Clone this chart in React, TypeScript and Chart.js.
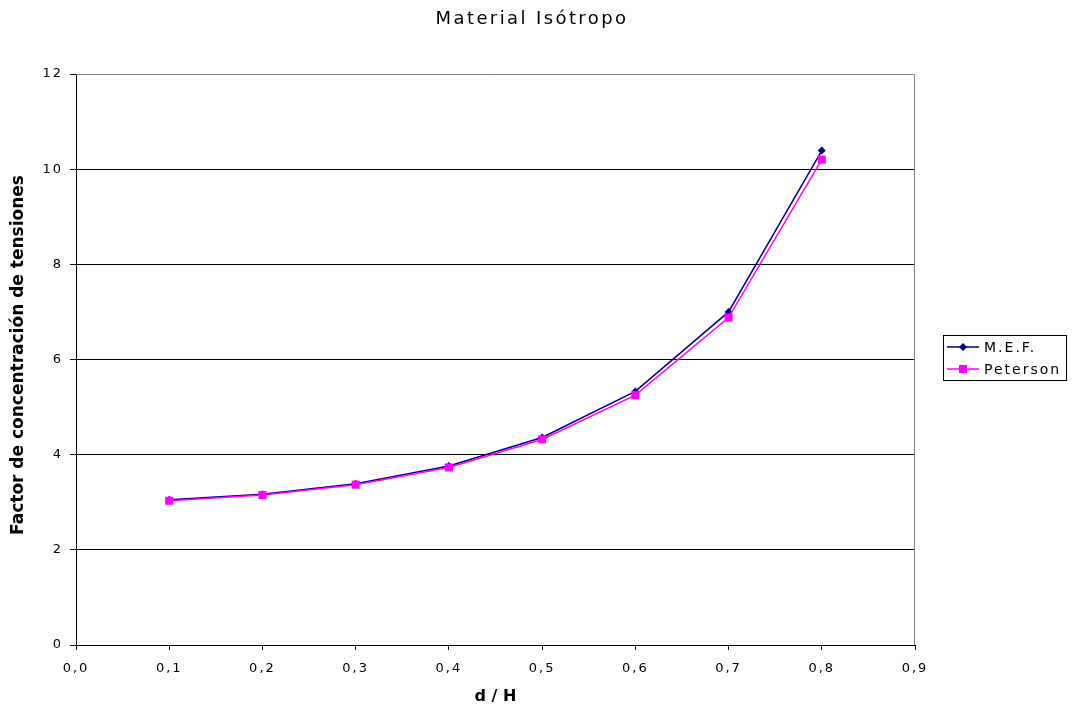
import React, { useEffect, useRef } from "react";
import { Chart, registerables } from "chart.js";

Chart.register(...registerables);

const xValues = [0.1, 0.2, 0.3, 0.4, 0.5, 0.6, 0.7, 0.8];
const mefValues = [3.05, 3.17, 3.39, 3.76, 4.36, 5.33, 7.0, 10.39];
const petersonValues = [3.03, 3.15, 3.37, 3.73, 4.32, 5.25, 6.88, 10.2];
const xTickValues = [0, 0.1, 0.2, 0.3, 0.4, 0.5, 0.6, 0.7, 0.8, 0.9];
const seriesNames = ["M.E.F.", "Peterson"];
const chartTitle = "Material Isótropo";
const xTitle = "d / H";
const yTitle = "Factor de concentración de tensiones";

const FONT = "'DejaVu Sans', Verdana, sans-serif";

const spacingPlugin = {
  id: "spacing",
  beforeUpdate(chart: any) {
    (chart.ctx as any).letterSpacing = "2px";
  },
  beforeDraw(chart: any) {
    (chart.ctx as any).letterSpacing = "2px";
  },
};

const decorPlugin = {
  id: "decor",
  afterDraw(chart: any) {
    const ctx = chart.ctx as CanvasRenderingContext2D;
    const a = chart.chartArea;
    ctx.save();
    // plot border (top & right)
    ctx.strokeStyle = "#808080";
    ctx.lineWidth = 1;
    ctx.beginPath();
    ctx.moveTo(a.left, a.top + 0.5);
    ctx.lineTo(a.right - 0.5, a.top + 0.5);
    ctx.lineTo(a.right - 0.5, a.bottom);
    ctx.stroke();

    // title
    ctx.fillStyle = "#000";
    ctx.textAlign = "center";
    ctx.textBaseline = "middle";
    (ctx as any).letterSpacing = "2.4px";
    ctx.font = `18px ${FONT}`;
    ctx.fillText(chartTitle, 532, 19);

    // x title
    (ctx as any).letterSpacing = "0px";
    ctx.font = `bold 16px ${FONT}`;
    ctx.fillText(xTitle, (a.left + a.right) / 2, 697);

    // y title
    ctx.save();
    ctx.translate(19, 355);
    ctx.rotate(-Math.PI / 2);
    ctx.font = `bold 17px ${FONT}`;
    ctx.fillText(yTitle, 0, 0);
    ctx.restore();

    // legend
    const lx = 943, ly = 335, lw = 123, lh = 45;
    ctx.strokeStyle = "#000";
    ctx.lineWidth = 1;
    ctx.strokeRect(lx + 0.5, ly + 0.5, lw, lh);
    const items = [
      { name: seriesNames[0], color: "#000080", style: "diamond", y: 347 },
      { name: seriesNames[1], color: "#FF00FF", style: "square", y: 369 },
    ];
    (ctx as any).letterSpacing = "2px";
    ctx.font = `14px ${FONT}`;
    ctx.textAlign = "left";
    for (const it of items) {
      ctx.strokeStyle = it.color;
      ctx.lineWidth = 1.5;
      ctx.beginPath();
      ctx.moveTo(947, it.y);
      ctx.lineTo(979, it.y);
      ctx.stroke();
      ctx.fillStyle = it.color;
      const cx = 963;
      if (it.style === "diamond") {
        ctx.beginPath();
        ctx.moveTo(cx, it.y - 4);
        ctx.lineTo(cx + 4, it.y);
        ctx.lineTo(cx, it.y + 4);
        ctx.lineTo(cx - 4, it.y);
        ctx.closePath();
        ctx.fill();
      } else {
        ctx.fillRect(cx - 4, it.y - 4, 8, 8);
      }
      ctx.fillStyle = "#000";
      ctx.fillText(it.name, 984, it.y + 1);
    }
    ctx.restore();
  },
};

export default function App() {
  const ref = useRef<HTMLCanvasElement | null>(null);
  useEffect(() => {
    if (!ref.current) return;
    const chart = new Chart(ref.current, {
      type: "line",
      data: {
        datasets: [
          {
            label: seriesNames[0],
            data: xValues.map((x, i) => ({ x, y: mefValues[i] })),
            borderColor: "#000080",
            backgroundColor: "#000080",
            borderWidth: 1.5,
            pointStyle: "rectRot",
            pointRadius: 4,
            pointBorderWidth: 0,
            tension: 0,
            order: 1,
          },
          {
            label: seriesNames[1],
            data: xValues.map((x, i) => ({ x, y: petersonValues[i] })),
            borderColor: "#FF00FF",
            backgroundColor: "#FF00FF",
            borderWidth: 1.5,
            pointStyle: "rect",
            pointRadius: 5.7,
            pointBorderWidth: 0,
            tension: 0,
            order: 0,
          },
        ],
      },
      options: {
        animation: false,
        responsive: false,
        maintainAspectRatio: false,
        layout: { padding: { top: 74, right: 159, left: 0, bottom: 0 } },
        plugins: { legend: { display: false }, title: { display: false }, tooltip: { enabled: false } },
        scales: {
          x: {
            type: "linear",
            min: 0,
            max: 0.9,
            afterFit: (s: any) => { s.height = 68; },
            afterBuildTicks: (s: any) => {
              s.ticks = xTickValues.map((v) => ({ value: v }));
            },
            ticks: {
              color: "#000",
              font: { family: FONT, size: 13 },
              padding: 11,
              maxRotation: 0,
              autoSkip: false,
              callback: (v: any) => Number(v).toFixed(1).replace(".", ","),
            },
            grid: { display: true, drawOnChartArea: false, drawTicks: true, tickLength: 5, color: "#000" },
            border: { color: "#000", width: 1 },
          },
          y: {
            min: 0,
            max: 12,
            afterFit: (s: any) => { s.width = 76; },
            ticks: {
              stepSize: 2,
              color: "#000",
              font: { family: FONT, size: 13 },
              padding: 7,
            },
            grid: {
              color: (c: any) => (c.tick && c.tick.value === 12 ? "rgba(0,0,0,0)" : "#000"),
              tickColor: "#000",
              tickLength: 6,
              drawTicks: true,
            },
            border: { color: "#000", width: 1 },
          },
        },
      },
      plugins: [spacingPlugin, decorPlugin],
    });
    return () => chart.destroy();
  }, []);
  return (
    <div style={{ position: "absolute", left: 0, top: 0, width: 1074, height: 713, background: "#fff" }}>
      <canvas ref={ref} width={1074} height={713} style={{ width: 1074, height: 713 }} />
    </div>
  );
}
